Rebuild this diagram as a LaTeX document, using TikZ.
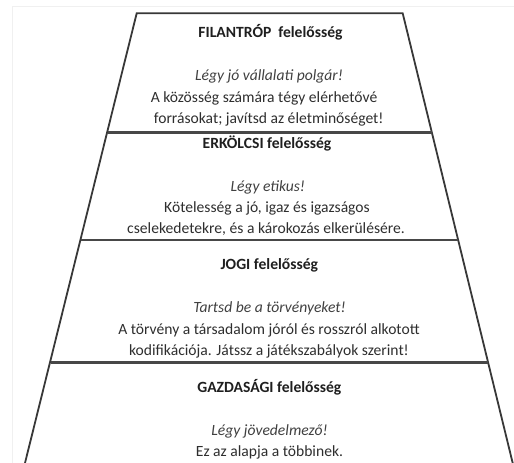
\documentclass[tikz,border=0pt]{standalone}
\usepackage{fontspec}
\setmainfont{Carlito}
\begin{document}
\begin{tikzpicture}[x=1pt,y=-1pt,
  side/.style={draw=black!78,line width=1.8pt,line join=miter},
  divider/.style={draw=black!72,line width=2.8pt},
  frame/.style={draw=black!6,line width=1pt},
  txt/.style={inner sep=0pt,text height=10.5pt,text depth=3.5pt,anchor=center,yshift=-1.2pt},
  head/.style={txt,font=\fontsize{15.6}{18}\selectfont\bfseries,text=black!88},
  motto/.style={txt,font=\fontsize{15.6}{18}\selectfont\itshape,text=black!75},
  body/.style={txt,font=\fontsize{15.6}{18}\selectfont,text=black!82}]
\useasboundingbox (0,0) rectangle (514,463);
\draw[frame] (12,463) -- (12,6) -- (514,6);
% pyramid outline
\coordinate (bl) at (25,463);
\coordinate (tl) at (136.7,13.3);
\coordinate (tr) at (402.7,13.3);
\coordinate (br) at (512.7,463);
\draw[side] (bl) -- (tl) -- (tr) -- (br);
% dividers
\coordinate (d1l) at (108.0,132.7);
\coordinate (d1r) at (431.9,132.7);
\coordinate (d2l) at (81.0,240);
\coordinate (d2r) at (458.2,240);
\coordinate (d3l) at (50.5,362.3);
\coordinate (d3r) at (488.1,362.3);
\draw[divider] (d1l) -- (d1r);
\draw[divider] (d2l) -- (d2r);
\draw[divider] (d3l) -- (d3r);
% FILANTRÓP
\node[head] (h1) at (270.5,33) {FILANTRÓP\ \ felelősség};
\node[motto] (m1) at (269,76) {Légy jó vállalati polgár!};
\node[body] (b1a) at (264,97.5) {A közösség számára tégy elérhetővé};
\node[body] (b1b) at (268.7,119) {forrásokat; javítsd az életminőséget!};
% ERKÖLCSI
\node[head] (h2) at (267,143.3) {ERKÖLCSI felelősség};
\node[motto] (m2) at (267.8,186.7) {Légy etikus!};
\node[body] (b2a) at (267,207.7) {Kötelesség a jó, igaz és igazságos};
\node[body] (b2b) at (266,229) {cselekedetekre, és a károkozás elkerülésére.};
% JOGI
\node[head] (h3) at (269.3,265) {JOGI felelősség};
\node[motto] (m3) at (269.5,307.7) {Tartsd be a törvényeket!};
\node[body] (b3a) at (269,329.3) {A törvény a társadalom jóról és rosszról alkotott};
\node[body] (b3b) at (269,351) {kodifikációja. Játssz a játékszabályok szerint!};
% GAZDASÁGI
\node[head] (h4) at (269.3,387.7) {GAZDASÁGI felelősség};
\node[motto] (m4) at (269.5,430.7) {Légy jövedelmező!};
\node[body] (b4a) at (269.5,451.7) {Ez az alapja a többinek.};
\end{tikzpicture}
\end{document}
